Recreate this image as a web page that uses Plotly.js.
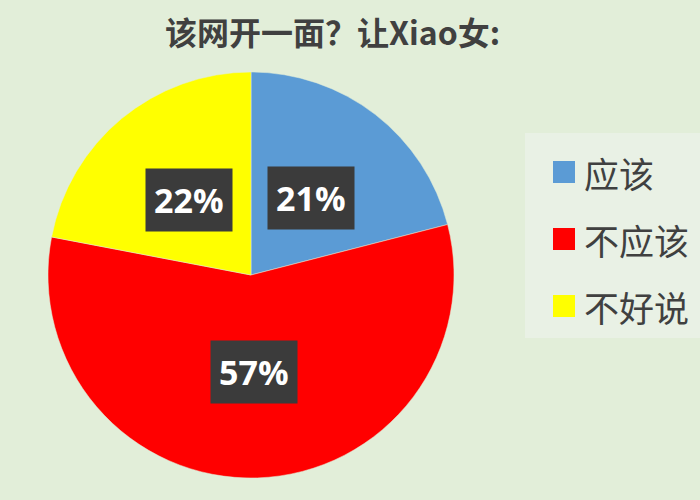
<!DOCTYPE html>
<html>
<head>
<meta charset="utf-8">
<script src="https://cdn.plot.ly/plotly-3.0.1.min.js"></script>
<style>html,body{margin:0;padding:0;background:#e2eed9;}#chart{width:700px;height:500px;}</style>
</head>
<body>
<div id="chart"></div>
<script>
const titleText = "该网开一面？让Xiao女:";
const categories = ["应该", "不应该", "不好说"];
const values = [21, 57, 22];
const colors = ["#5b9bd5", "#ff0000", "#ffff00"];

const W = 700, H = 500;
const cx = 251, cy = 275, R = 203;
const dom = {x: [(cx - R) / W, (cx + R) / W], y: [1 - (cy + R) / H, 1 - (cy - R) / H]};

const total = values.reduce((a, b) => a + b, 0);
const annotations = [];
let cum = 0;
values.forEach((v, i) => {
  const mid = (cum + v / 2) / total * 2 * Math.PI;
  cum += v;
  const r = 0.48 * R;
  const px = cx + r * Math.sin(mid);
  const py = cy - r * Math.cos(mid);
  annotations.push({
    xref: "paper", yref: "paper", x: px / W, y: 1 - py / H,
    text: "<b>" + Math.round(v / total * 100) + "%</b>", showarrow: false,
    font: {family: "Open Sans, Liberation Sans, sans-serif", size: 34, color: "#ffffff"},
    bgcolor: "#3b3b3b", borderpad: 8, xanchor: "center", yanchor: "middle"
  });
});

// custom legend built from categories/colors
const shapes = [{
  type: "rect", xref: "paper", yref: "paper",
  x0: 525 / W, x1: 1, y0: 1 - 338 / H, y1: 1 - 133 / H,
  fillcolor: "#e9f1e5", line: {width: 0}, layer: "below"
}];
categories.forEach((c, i) => {
  const yc = 172 + i * 67;
  shapes.push({
    type: "rect", xref: "paper", yref: "paper",
    x0: 553 / W, x1: 575 / W, y0: 1 - (yc + 11) / H, y1: 1 - (yc - 11) / H,
    fillcolor: colors[i], line: {width: 0}
  });
  annotations.push({
    xref: "paper", yref: "paper", x: 582 / W, y: 1 - yc / H,
    xanchor: "left", yanchor: "middle", showarrow: false, text: c,
    font: {family: "Noto Sans CJK SC, sans-serif", size: 35, color: "#404040"}
  });
});

const data = [{
  type: "pie", labels: categories, values: values, sort: false,
  direction: "clockwise", rotation: 0,
  marker: {colors: colors, line: {color: "#e2eed9", width: 0.5}},
  textinfo: "none", hoverinfo: "label+percent", showlegend: false,
  domain: dom
}];

const layout = {
  width: W, height: H,
  margin: {l: 0, r: 0, t: 0, b: 0},
  paper_bgcolor: "#e2eed9", plot_bgcolor: "#e2eed9",
  title: {
    text: "<b>" + titleText + "</b>", x: 0.475, xanchor: "center", y: 1 - 34 / H, yanchor: "middle",
    font: {family: "Noto Sans CJK SC, sans-serif", size: 32, color: "#404040"}
  },
  showlegend: false,
  annotations: annotations,
  shapes: shapes
};

Plotly.newPlot("chart", data, layout, {displayModeBar: false});
</script>
</body>
</html>
